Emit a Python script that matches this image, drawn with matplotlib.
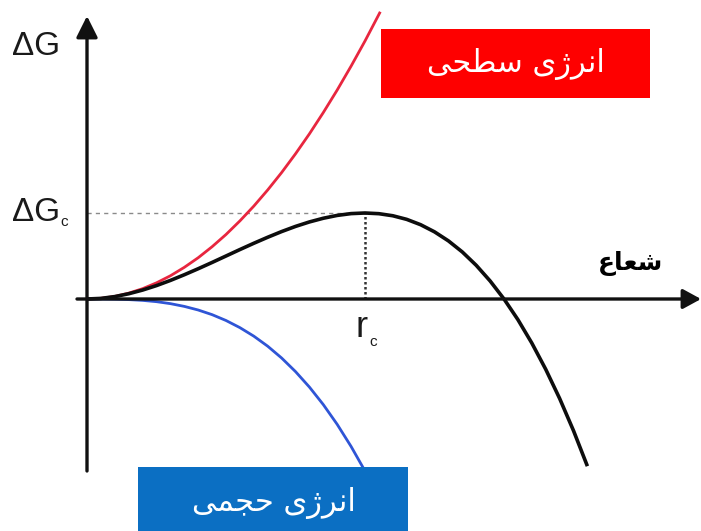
import matplotlib
matplotlib.use("Agg")
import matplotlib.pyplot as plt
from matplotlib.patches import Rectangle

# ---- data (r in units of r_c, dG in units of dG_c) ----
r_surface = [0.0, 0.05, 0.1, 0.15, 0.2, 0.25, 0.3, 0.35, 0.4, 0.45, 0.5, 0.55,
             0.6, 0.65, 0.7, 0.75, 0.8, 0.85, 0.9, 0.95, 1.0, 1.055]
g_surface = [0.0, 0.008, 0.03, 0.068, 0.12, 0.188, 0.27, 0.368, 0.48, 0.608, 0.75, 0.908,
             1.08, 1.268, 1.47, 1.688, 1.92, 2.168, 2.43, 2.708, 3.0, 3.34]

r_volume = [0.0, 0.05, 0.1, 0.15, 0.2, 0.25, 0.3, 0.35, 0.4, 0.45, 0.5,
            0.55, 0.6, 0.65, 0.7, 0.75, 0.8, 0.85, 0.9, 0.95, 1.0]
g_volume = [0.0, 0.0, -0.002, -0.007, -0.016, -0.031, -0.054, -0.086, -0.128, -0.182, -0.25,
            -0.333, -0.432, -0.549, -0.686, -0.844, -1.024, -1.228, -1.458, -1.715, -2.0]

r_total = [0.0, 0.05, 0.1, 0.15, 0.2, 0.25, 0.3, 0.35, 0.4, 0.45, 0.5, 0.55, 0.6,
           0.65, 0.7, 0.75, 0.8, 0.85, 0.9, 0.95, 1.0, 1.05, 1.1, 1.15, 1.2, 1.25,
           1.3, 1.35, 1.4, 1.45, 1.5, 1.55, 1.6, 1.65, 1.7, 1.75, 1.8]
g_total = [0.0, 0.007, 0.028, 0.061, 0.104, 0.156, 0.216, 0.282, 0.352, 0.425, 0.5,
           0.575, 0.648, 0.718, 0.784, 0.844, 0.896, 0.939, 0.972, 0.993, 1.0, 0.992,
           0.968, 0.926, 0.864, 0.781, 0.676, 0.547, 0.392, 0.210, 0.0, -0.240,
           -0.512, -0.817, -1.156, -1.531, -1.944]

r_crit = 1.0
g_crit = 1.0

# Persian labels (Arabic presentation forms, visual order)
label_surface = "\uFBFD\uFEA4\uFEC4\uFEB3 \uFBFC\uFB8A\uFEAE\uFEE7\uFE8D"   # انرژی سطحی
label_volume = "\uFBFD\uFEE4\uFEA0\uFEA3 \uFBFC\uFB8A\uFEAE\uFEE7\uFE8D"    # انرژی حجمی
label_radius = "\uFEC9\uFE8E\uFECC\uFEB7"                                    # شعاع

W, H = 701, 531
fig = plt.figure(figsize=(W / 100, H / 100), dpi=100)
ax = fig.add_axes([0, 0, 1, 1])
x0, y0 = 87, 299          # pixel position of origin
sx, sy = 278.0, 86.0      # pixels per unit
ax.set_xlim(-x0 / sx, (W - x0) / sx)
ax.set_ylim((y0 - H) / sy, y0 / sy)
ax.axis("off")


def px(x, y):
    return ((x - x0) / sx, (y0 - y) / sy)


# axes with arrows
ax.annotate("", xy=px(701, 299), xytext=px(77, 299),
            arrowprops=dict(arrowstyle="-|>,head_length=11,head_width=6",
                            mutation_scale=1, lw=2.4, color="#111111",
                            shrinkA=0, shrinkB=0), zorder=3)
ax.annotate("", xy=px(87, 16), xytext=px(87, 471),
            arrowprops=dict(arrowstyle="-|>,head_length=13,head_width=6.5",
                            mutation_scale=1, lw=2.4, color="#111111",
                            shrinkA=0, shrinkB=0), zorder=3)

# guide lines
ax.plot([0, r_crit], [g_crit, g_crit], color="#8a8a8a", lw=1.0,
        dashes=(3, 3), zorder=1)
ax.plot([r_crit, r_crit], [0, g_crit], color="#333333", lw=1.8,
        linestyle=(0, (1, 1)), zorder=1)

# curves
ax.plot(r_surface, g_surface, color="#e8263f", lw=2.0, zorder=2,
        solid_capstyle="butt")
ax.plot(r_volume, g_volume, color="#2f55d6", lw=2.0, zorder=2,
        solid_capstyle="butt")
ax.plot(r_total, g_total, color="#0d0d0d", lw=2.6, zorder=2.5,
        solid_capstyle="butt")

# boxes
ft = fig.transFigure
def fig_xy(x, y):
    return (x / W, 1 - y / H)

fig.patches.append(Rectangle(fig_xy(381, 98), (650 - 381) / W, (98 - 29) / H,
                             transform=ft, facecolor="#fe0000", edgecolor="none",
                             zorder=5))
fig.patches.append(Rectangle(fig_xy(138, 531), (408 - 138) / W, (531 - 467) / H,
                             transform=ft, facecolor="#0b6fc3", edgecolor="none",
                             zorder=5))

# Persian labels
fig.text(*fig_xy(516, 64), label_surface, color="white", fontsize=22,
         family="DejaVu Sans", ha="center", va="center", zorder=6)
fig.text(*fig_xy(274, 503), label_volume, color="white", fontsize=22,
         family="DejaVu Sans", ha="center", va="center", zorder=6)
fig.text(*fig_xy(630, 263), label_radius, color="black", fontsize=18,
         family="DejaVu Sans", weight="bold", ha="center", va="center", zorder=6)

# math-ish labels
lab = dict(family="Liberation Sans", color="#1a1a1a")
fig.text(*fig_xy(12, 55), "\u0394G", fontsize=24, ha="left", va="baseline", **lab)
fig.text(*fig_xy(12, 221), "\u0394G", fontsize=24, ha="left", va="baseline", **lab)
fig.text(*fig_xy(60, 226), "c", fontsize=11, ha="left", va="baseline", **lab)
fig.text(*fig_xy(355, 337), "r", fontsize=26, ha="left", va="baseline", **lab)
fig.text(*fig_xy(369, 346), "c", fontsize=11, ha="left", va="baseline", **lab)

fig.savefig("out.png", dpi=100)
